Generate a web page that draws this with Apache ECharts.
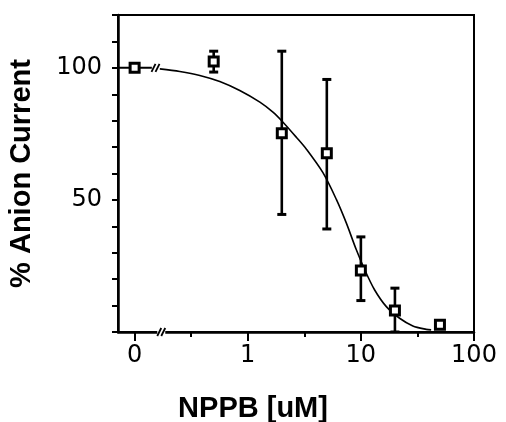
<!DOCTYPE html>
<html><head><meta charset="utf-8">
<script src="https://cdn.jsdelivr.net/npm/echarts@6/dist/echarts.min.js"></script>
<style>html,body{margin:0;padding:0;background:#fff}#c{width:506px;height:422px}</style>
</head><body><div id="c"></div>
<script>
// ---- data ----
const concentrations = [0, 0.5, 2, 5, 10, 20, 50];          // NPPB [uM]
const current        = [100, 102.4, 75.2, 67.7, 23.3, 8.1, 2.7]; // % anion current
const errHigh        = [null, 106.3, 106.3, 95.6, 36.0, 16.6, null];
const errLow         = [null, 98.4, 44.5, 39.0, 11.9, 0, null];
const fitX = [0.167, 0.251, 0.377, 0.566, 0.85, 1.28, 1.67, 2.05, 2.69, 3.30, 4.62, 6.07, 7.43, 9.1, 10.8, 13.2, 16.8, 22.0, 28.8, 37.8, 41.8];
const fitY = [99.6, 98.6, 97.1, 94.8, 91.4, 87.0, 83.2, 79.4, 73.7, 69.2, 60.3, 50.2, 41.3, 31.2, 23.6, 16.0, 9.6, 5.2, 2.3, 1.0, 0.8];
const xTickValues = [0, 1, 10, 100];
const xTickLabels = ['0', '1', '10', '100'];
const xMinorValues = [0.316, 3.16, 31.6];
const yTickLabels = ['50', '100'];

// ---- axis layout ----
const ZERO_AT = 0.1;      // where "0" sits on the log axis
const X_MIN = 0.0713, X_MAX = 100;
const BREAK_X = 0.153;    // break marks on the zero line
const AXIS_BREAK_X = 0.172;
const ZERO_LINE_END = 0.142;

const pos = c => (c === 0 ? ZERO_AT : c);
const font = 'DejaVu Sans';

const chart = echarts.init(document.getElementById('c'), null, {renderer: 'canvas'});

const labelVals = xTickValues.map(pos);
const option = {
  animation: false,
  backgroundColor: '#fff',
  grid: {left: 118, right: 32, top: 15, bottom: 90, show: true, borderColor: '#000', borderWidth: 2,
         containLabel: false, outerBoundsMode: 'none'},
  xAxis: [{
    type: 'log', logBase: 10, min: X_MIN, max: X_MAX,
    name: 'NPPB [uM]', nameLocation: 'middle', nameGap: 62,
    nameTextStyle: {fontFamily: 'Liberation Sans', fontWeight: 'bold', fontSize: 29, color: '#000', padding: [0, 86, 0, 0]},
    axisLine: {show: true, lineStyle: {color: '#000', width: 2.5}},
    axisTick: {show: true, inside: false, length: 9, lineStyle: {color: '#000', width: 2}, customValues: labelVals},
    axisLabel: {
      show: true, margin: 12, color: '#000', fontFamily: font, fontSize: 24,
      customValues: labelVals,
      formatter: v => { const i = labelVals.findIndex(t => Math.abs(Math.log10(t) - Math.log10(v)) < 1e-6); return i >= 0 ? xTickLabels[i] : ''; }
    },
    splitLine: {show: false}, minorTick: {show: false}
  }, {
    type: 'log', logBase: 10, min: X_MIN, max: X_MAX, position: 'bottom',
    axisLine: {show: false},
    axisTick: {show: true, length: 5, lineStyle: {color: '#000', width: 2}, customValues: xMinorValues},
    axisLabel: {show: false}, splitLine: {show: false}
  }],
  yAxis: {
    type: 'value', min: 0, max: 120, interval: 10,
    name: '% Anion Current', nameLocation: 'middle', nameGap: 82, nameRotate: 90,
    nameTextStyle: {fontFamily: 'Liberation Sans', fontWeight: 'bold', fontSize: 29, color: '#000'},
    axisLine: {show: true, lineStyle: {color: '#000', width: 2.5}},
    axisTick: {show: true, inside: false, length: 6, lineStyle: {color: '#000', width: 2}},
    axisLabel: {margin: 16, color: '#000', fontFamily: font, fontSize: 24,
      formatter: v => (yTickLabels.includes(String(v)) ? String(v) : '')},
    splitLine: {show: false}
  },
  series: [
    {
      type: 'line', name: 'zero', xAxisIndex: 0, silent: true, symbol: 'none',
      data: [[X_MIN, current[0]], [ZERO_LINE_END, current[0]]],
      lineStyle: {color: '#000', width: 2}, z: 3
    },
    {
      type: 'line', name: 'fit', xAxisIndex: 0, silent: true, symbol: 'none', smooth: 0.3,
      data: fitX.map((x, i) => [x, fitY[i]]),
      lineStyle: {color: '#000', width: 1.6}, z: 3
    },
    {
      type: 'custom', name: 'err', xAxisIndex: 0, silent: true, clip: true,
      encode: {x: 0, y: [1, 2]},
      data: concentrations.map((c, i) => [pos(c), errLow[i], errHigh[i]]).filter(d => d[1] != null),
      renderItem: (params, api) => {
        const x = api.value(0), lo = api.value(1), hi = api.value(2);
        const a = api.coord([x, lo]), b = api.coord([x, hi]);
        const w = 4.5;
        const st = {stroke: '#000', lineWidth: 2.6};
        const cap = {stroke: '#000', lineWidth: 3};
        return {type: 'group', children: [
          {type: 'line', shape: {x1: a[0], y1: a[1], x2: b[0], y2: b[1]}, style: st},
          {type: 'line', shape: {x1: b[0] - w, y1: b[1], x2: b[0] + w, y2: b[1]}, style: cap},
          {type: 'line', shape: {x1: a[0] - w, y1: a[1], x2: a[0] + w, y2: a[1]}, style: cap}
        ]};
      }, z: 4
    },
    {
      type: 'scatter', name: 'data', xAxisIndex: 0, silent: true,
      symbol: 'rect', symbolSize: 9,
      data: concentrations.map((c, i) => [pos(c), current[i]]),
      itemStyle: {color: '#fff', borderColor: '#000', borderWidth: 3, opacity: 1}, z: 5
    }
  ]
};
chart.setOption(option);

// break marks, placed through the axis scales
function slashes(p, h, gap) {
  const out = [];
  [-gap / 2, gap / 2].forEach(dx => {
    out.push({type: 'line', z: 20, shape: {x1: p[0] + dx - 2, y1: p[1] + h / 2, x2: p[0] + dx + 2, y2: p[1] - h / 2},
      style: {stroke: '#000', lineWidth: 1.8}});
  });
  return out;
}
const pz = chart.convertToPixel({gridIndex: 0}, [BREAK_X, current[0]]);
const pa = chart.convertToPixel({gridIndex: 0}, [AXIS_BREAK_X, 0]);
chart.setOption({graphic: [
  {type: 'rect', z: 19, shape: {x: pa[0] - 4, y: pa[1] - 2, width: 8, height: 4}, style: {fill: '#fff'}},
  ...slashes(pz, 8, 4),
  ...slashes(pa, 8, 4)
]});
</script>
</body></html>
